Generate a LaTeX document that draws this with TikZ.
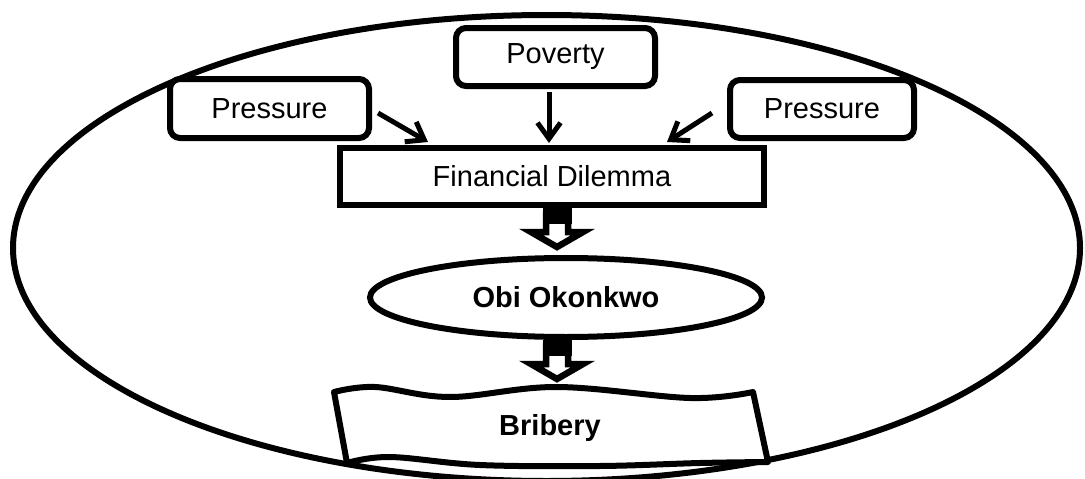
\documentclass[tikz,border=0pt]{standalone}
\usepackage{fontspec}
\setmainfont{Liberation Sans}
\usetikzlibrary{arrows.meta,shapes.geometric}
\begin{document}
\begin{tikzpicture}[x=1pt,y=-1pt,
  txt/.style={font=\fontsize{29}{34}\selectfont},
  rbox/.style={txt,draw,line width=6pt,fill=white,rounded corners=10pt,inner sep=0pt,minimum width=199pt,minimum height=59pt},
  sbox/.style={txt,draw,line width=6pt,fill=white,inner sep=0pt},
  thinarr/.style={line width=5pt,-{Straight Barb[length=16pt,width=23pt]}},
  blockarr/.pic={
    \draw[line width=6.5pt,fill=white,line join=miter]
      (-11,3) -- (11,3) -- (11,21) -- (26,21) -- (0,36) -- (-26,21) -- (-11,21) -- cycle;
    \fill (-14.5,-3) rectangle (14.5,13);
  }]
\useasboundingbox (0,0) rectangle (1085,479);
% outer ellipse
\draw[line width=6pt] (546.5,248) ellipse [x radius=533.5pt, y radius=233pt];
% boxes
\node[rbox] (lp) at (269.5,108.5) {Pressure};
\node[rbox,minimum width=184pt,minimum height=58pt] (rp) at (822,109) {Pressure};
\node[rbox,minimum height=58pt] (pov) at (555.5,57) {Poverty};
\node[sbox,minimum width=424pt,minimum height=57pt] (fd) at (552,176.5) {Financial Dilemma};
\node[draw,shape=ellipse,line width=6pt,fill=white,inner sep=0pt,minimum width=392pt,minimum height=79pt,font=\fontsize{29}{34}\selectfont\bfseries] (obi) at (566,297.5) {Obi Okonkwo};
% bribery banner
\draw[line width=6pt,fill=white,line join=round]
  plot[smooth,tension=0.6] coordinates {(334,392) (375,387) (450,397) (557,387) (690,398) (753,392)}
  -- (768,462)
  -- plot[smooth,tension=0.6] coordinates {(768,462) (700,463) (600,466) (480,465) (390,457) (347,463)}
  -- cycle;
\node[font=\fontsize{29}{34}\selectfont\bfseries] (bri) at (550,428) {Bribery};
% thin arrows
\draw[thinarr] ([xshift=6pt,yshift=-4.5pt]lp.east) -- ([xshift=-124pt,yshift=3pt]fd.north);
\draw[thinarr] ([xshift=-6.5pt,yshift=-3pt]pov.south) -- ([xshift=-3pt,yshift=2pt]fd.north);
\draw[thinarr] ([xshift=-15pt,yshift=-4pt]rp.west) -- ([xshift=115pt,yshift=3pt]fd.north);
% block arrows
\pic at ([xshift=5pt,yshift=-3pt]fd.south) {blockarr};
\pic at ([xshift=-9pt,yshift=-3pt]obi.south) {blockarr};
\end{tikzpicture}
\end{document}
